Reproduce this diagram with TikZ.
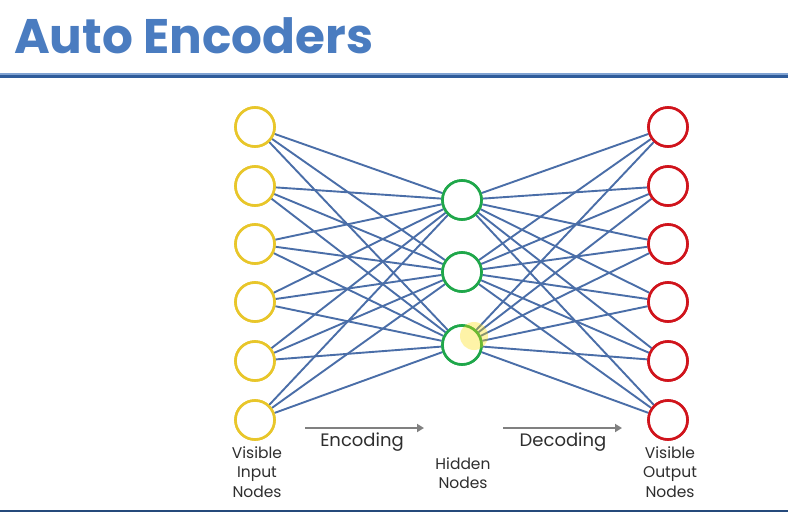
\documentclass[tikz,border=0pt]{standalone}
\usepackage{fontspec}
\usepackage{pdfrender}
\usetikzlibrary{arrows.meta}
\setmainfont{Poppins}
\newfontfamily\titlefont{Poppins}[UprightFont=* Bold]
\definecolor{titleblue}{HTML}{4A7CC0}
\definecolor{titleedge}{HTML}{2F5C9A}
\definecolor{edgeblue}{HTML}{4A6EA8}
\definecolor{inyellow}{HTML}{E8C62A}
\definecolor{hidgreen}{HTML}{1FA74A}
\definecolor{outred}{HTML}{D0141C}
\definecolor{arrowgray}{HTML}{808080}
\definecolor{labelgray}{HTML}{2E2E2E}
\begin{document}
\begin{tikzpicture}[x=1pt,y=-1pt,
  unit/.style={circle,draw,line width=2.6pt,fill=white,minimum size=39pt,inner sep=0pt},
  inunit/.style={unit,draw=inyellow},
  hidunit/.style={unit,draw=hidgreen},
  outunit/.style={unit,draw=outred},
  conn/.style={draw=edgeblue,line width=1.9pt},
  flow/.style={draw=arrowgray,line width=2.4pt,-{Triangle[length=7pt,width=8pt]}},
  lbl/.style={text=labelgray,font=\fontsize{15.5}{19.5}\selectfont,align=center},
  flowlbl/.style={text=labelgray,font=\fontsize{18}{20}\selectfont},
  ttl/.style={anchor=west,inner sep=0pt,font=\titlefont\fontsize{48.5}{52}\selectfont}
]
\useasboundingbox (0,0) rectangle (788,512);
\fill[white] (0,0) rectangle (788,512);
% title
\node[ttl,text=titleblue] (title) at (14,36) {\textpdfrender{TextRenderingMode=FillStroke,LineWidth=1.2,StrokeColor=titleedge}{Auto Encoders}};
\fill[titleedge] (0,73) rectangle (788,77.5);
\fill[titleblue!70] (0,73) rectangle (788,74.5);
\fill[titleedge!80!black] (0,509.5) rectangle (788,512);
% nodes
\foreach \i/\y in {1/127,2/186,3/244,4/302,5/361,6/420}{
  \node[inunit] (in\i) at (255,\y) {};
  \node[outunit] (out\i) at (668,\y) {};
}
\node[hidunit] (h1) at (462,200) {};
\node[hidunit] (h2) at (462,272) {};
\node[hidunit] (h3) at (462,345) {};
% connections
\foreach \i in {1,...,6}{
  \foreach \j in {1,2,3}{
    \draw[conn] (in\i) -- (h\j);
    \draw[conn] (h\j) -- (out\i);
  }
}
% redraw nodes on top
\foreach \i/\y in {1/127,2/186,3/244,4/302,5/361,6/420}{
  \node[inunit] at (255,\y) {};
  \node[outunit] at (668,\y) {};
}
\node[hidunit] at (462,200) {};
\node[hidunit] at (462,272) {};
\node[hidunit] at (462,345) {};
% cursor highlight
\fill[yellow!80!orange,opacity=0.35] (474,336) circle (14pt);
% labels
\node[lbl] (lin) at (257,472) {Visible\\Input\\Nodes};
\node[lbl] (lhid) at (463,473) {Hidden\\Nodes};
\node[lbl] (lout) at (670,472) {Visible\\Output\\Nodes};
\coordinate (e1) at (305,428);
\coordinate (e2) at (424,428);
\coordinate (d1) at (503,428);
\coordinate (d2) at (622,428);
\draw[flow] (e1) -- (e2);
\draw[flow] (d1) -- (d2);
\node[flowlbl] (enc) at (362,442) {Encoding};
\node[flowlbl] (dec) at (563,442) {Decoding};
\end{tikzpicture}
\end{document}
